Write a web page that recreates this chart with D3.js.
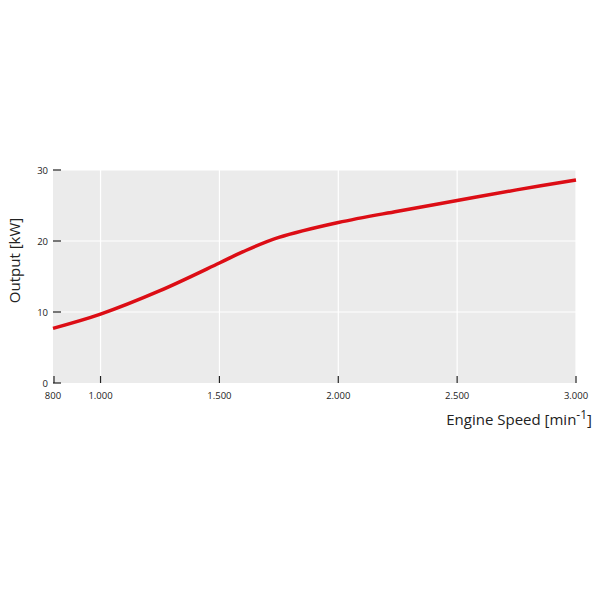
<!DOCTYPE html><html><head><script src="https://cdn.jsdelivr.net/npm/d3@7"></script>
<style>body{margin:0;background:#fff}</style></head><body><svg width="600" height="600"></svg>
<script>
const speeds=[800,1000,1250,1500,1600,1750,2000,2250,2500,2750,3000];
const output=[7.7,9.7,13.0,16.9,18.5,20.5,22.6,24.2,25.7,27.2,28.6];
const xTicks=[1000,1500,2000,2500,3000];
const xTickLabels=["1.000","1.500","2.000","2.500","3.000"];
const yTicks=[0,10,20,30];
const svg=d3.select("svg");
const x=d3.scaleLinear().domain([800,3000]).range([53,576]);
const y=d3.scaleLinear().domain([0,30]).range([383,170]);
const F="Open Sans, sans-serif";
svg.append("rect").attr("x",x(800)).attr("y",y(30)).attr("width",x(3000)-x(800)).attr("height",y(0)-y(30)).attr("fill","#ebebeb");
svg.selectAll(".gx").data(xTicks).join("line").attr("x1",d=>x(d)).attr("x2",d=>x(d)).attr("y1",y(30)).attr("y2",y(0)).attr("stroke","#fff").attr("stroke-width",1.2);
svg.selectAll(".gy").data(yTicks.slice(1)).join("line").attr("x1",x(800)).attr("x2",x(3000)).attr("y1",d=>y(d)).attr("y2",d=>y(d)).attr("stroke","#fff").attr("stroke-width",1.2);
svg.selectAll(".ty").data(yTicks).join("line").attr("x1",x(800)).attr("x2",x(800)+8).attr("y1",d=>y(d)).attr("y2",d=>y(d)).attr("stroke","#222").attr("stroke-width",1.2);
svg.append("line").attr("x1",x(800)+1).attr("x2",x(800)+1).attr("y1",y(0)-7).attr("y2",y(0)).attr("stroke","#222").attr("stroke-width",1.2);
svg.selectAll(".tx").data(xTicks).join("line").attr("x1",d=>x(d)).attr("x2",d=>x(d)).attr("y1",y(0)-7).attr("y2",y(0)).attr("stroke","#222").attr("stroke-width",1.2);
svg.selectAll(".ly").data(yTicks).join("text").attr("x",x(800)-5).attr("y",d=>y(d)+3.5).attr("text-anchor","end").attr("font-family",F).attr("font-size",9.5).attr("fill","#222").text(d=>d);
svg.selectAll(".lx").data(xTicks).join("text").attr("x",d=>x(d)).attr("y",y(0)+16).attr("text-anchor","middle").attr("font-family",F).attr("font-size",9.5).attr("fill","#222").text((d,i)=>xTickLabels[i]);
svg.append("text").attr("x",x(800)).attr("y",y(0)+16).attr("text-anchor","middle").attr("font-family",F).attr("font-size",9.5).attr("fill","#222").text("800");
svg.append("text").attr("transform",`translate(20,${(y(0)+y(30))/2-16}) rotate(-90)`).attr("text-anchor","middle").attr("font-family",F).attr("font-size",15).attr("fill","#222").text("Output [kW]");
const t=svg.append("text").attr("x",592).attr("y",425).attr("text-anchor","end").attr("font-family",F).attr("font-size",15).attr("fill","#222");
t.append("tspan").text("Engine Speed [min");
t.append("tspan").attr("dy",-6).attr("font-size",12).text("-1");
t.append("tspan").attr("dy",6).text("]");
svg.append("path").datum(speeds.map((s,i)=>[s,output[i]])).attr("d",d3.line().x(d=>x(d[0])).y(d=>y(d[1])).curve(d3.curveCatmullRom)).attr("fill","none").attr("stroke","#dc0d15").attr("stroke-width",3.5);
</script></body></html>
